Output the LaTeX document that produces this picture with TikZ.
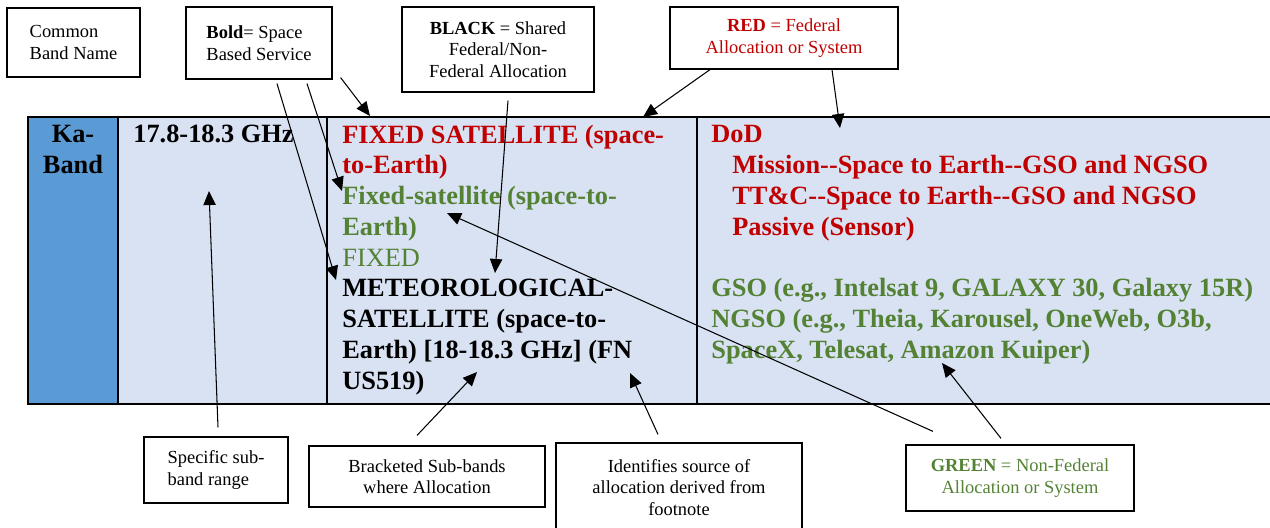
\documentclass[tikz,border=0pt]{standalone}
\usepackage{fontspec}
\setmainfont{Liberation Serif}
\usepackage{tikz}
\usetikzlibrary{arrows.meta}
\definecolor{fedred}{RGB}{192,0,0}
\definecolor{nonfedgreen}{RGB}{84,130,53}
\definecolor{bandblue}{RGB}{91,155,213}
\definecolor{cellblue}{RGB}{217,226,243}
\newcommand{\dhyph}{\mbox{-}\mbox{-}}

\begin{document}
\begin{tikzpicture}[
		x=0.02cm, y=-0.02cm,
		note/.style={draw, line width=0.7pt, inner sep=0pt, font=\fontsize{10.5}{12.3}\selectfont},
		cell/.style={anchor=base west, inner sep=0pt, align=left, font=\fontsize{15}{17.5}\selectfont\bfseries},
		grid/.style={line width=1.1pt},
		pointer/.style={->, line width=0.6pt},
		>={Triangle[length=8pt,width=7pt]}
		]
	\useasboundingbox (0,0) rectangle (1270,527);

	\fill[bandblue] (28,117) rectangle (118,404);
	\fill[cellblue] (118,117) rectangle (1272,404);
	\draw[grid] (28,117) rectangle (1272,404);
	\draw[grid] (118,117) -- (118,404) (327,117) -- (327,404) (697,117) -- (697,404);

	\node[cell, anchor=base, align=center] (band) at (73,173) {Ka-\\Band};
	\node[cell] (range) at (133,142) {17.8-18.3 GHz};
	\node[cell] (alloc) at (342,389) {\textcolor{fedred}{FIXED SATELLITE (space-}\\
		\textcolor{fedred}{to-Earth)}\\
		\textcolor{nonfedgreen}{Fixed-satellite (space-to-}\\
		\textcolor{nonfedgreen}{Earth)}\\
		\textcolor{nonfedgreen}{\mdseries FIXED}\\
		METEOROLOGICAL-\\
		SATELLITE (space-to-\\
		Earth) [18-18.3 GHz] (FN\\
		US519)};
	\node[cell] (users) at (711,358) {\textcolor{fedred}{DoD}\\
		\hspace*{0.42cm}\textcolor{fedred}{Mission\dhyph Space to Earth\dhyph GSO and NGSO}\\
		\hspace*{0.42cm}\textcolor{fedred}{TT\&C\dhyph Space to Earth\dhyph GSO and NGSO}\\
		\hspace*{0.42cm}\textcolor{fedred}{Passive (Sensor)}\\[17.5pt]
		\textcolor{nonfedgreen}{GSO (e.g., Intelsat 9, GALAXY 30, Galaxy 15R)}\\
		\textcolor{nonfedgreen}{NGSO (e.g., Theia, Karousel, OneWeb, O3b,}\\
		\textcolor{nonfedgreen}{SpaceX, Telesat, Amazon Kuiper)}};

	\node[note, minimum width=2.66cm, minimum height=1.38cm, align=left] (bandnote) at (73.5,42.5) {Common\\Band Name};
	\node[note, minimum width=2.92cm, minimum height=1.44cm, align=left] (boldnote) at (259,43) {\textbf{Bold}= Space\\Based Service};
	\node[note, minimum width=3.84cm, minimum height=1.70cm, align=center] (blacknote) at (498,49.5) {\textbf{BLACK} = Shared\\Federal/Non-\\Federal Allocation};
	\node[note, minimum width=4.56cm, minimum height=1.24cm, align=center, text=fedred] (rednote) at (784,38) {\textbf{RED} = Federal\\Allocation or System};
	\node[note, minimum width=2.88cm, minimum height=1.32cm, align=left] (subnote) at (216,470) {Specific sub-\\band range};
	\node[note, minimum width=4.72cm, minimum height=1.22cm, align=center] (bracketnote) at (427,476.5) {Bracketed Sub-bands\\where Allocation};
	\node[note, minimum width=4.92cm, minimum height=1.78cm, align=center] (sourcenote) at (679,487.5) {Identifies source of\\allocation derived from\\footnote};
	\node[note, minimum width=4.56cm, minimum height=1.32cm, align=center, text=nonfedgreen] (greennote) at (1020,478) {\textbf{GREEN} = Non-Federal\\Allocation or System};

	\coordinate (metTip) at (336,280);
	\coordinate (fixedTip) at (342,191);
	\coordinate (fssTip) at (370,116);
	\coordinate (sharedTip) at (495,273);
	\coordinate (fedTip) at (643,117);
	\coordinate (dodTip) at (840,128);
	\coordinate (rangeTip) at (209,191);
	\coordinate (bracketTip) at (477,372);
	\coordinate (fnTip) at (630,373);
	\coordinate (greenTip) at (447,213);
	\coordinate (systemTip) at (942,363);

	\draw[pointer] ([xshift=0.36cm,yshift=-0.08cm]boldnote.south) -- (metTip);
	\draw[pointer] ([xshift=0.96cm,yshift=-0.08cm]boldnote.south) -- (fixedTip);
	\draw[pointer] ([xshift=0.16cm,yshift=0.04cm]boldnote.south east) -- (fssTip);
	\draw[pointer] ([xshift=0.2cm,yshift=-0.16cm]blacknote.south) -- (sharedTip);
	\draw[pointer] ([xshift=-1.48cm]rednote.south) -- (fedTip);
	\draw[pointer] ([xshift=0.96cm]rednote.south) -- (dodTip);
	\draw[pointer] ([xshift=0.04cm,yshift=0.18cm]subnote.north) -- (rangeTip);
	\draw[pointer] ([xshift=-0.2cm,yshift=0.2cm]bracketnote.north) -- (bracketTip);
	\draw[pointer] ([xshift=-0.42cm,yshift=0.16cm]sourcenote.north) -- (fnTip);
	\draw[pointer] ([xshift=-1.74cm,yshift=0.26cm]greennote.north) -- (greenTip);
	\draw[pointer] ([xshift=-0.38cm,yshift=0.12cm]greennote.north) -- (systemTip);

\end{tikzpicture}
\end{document}
